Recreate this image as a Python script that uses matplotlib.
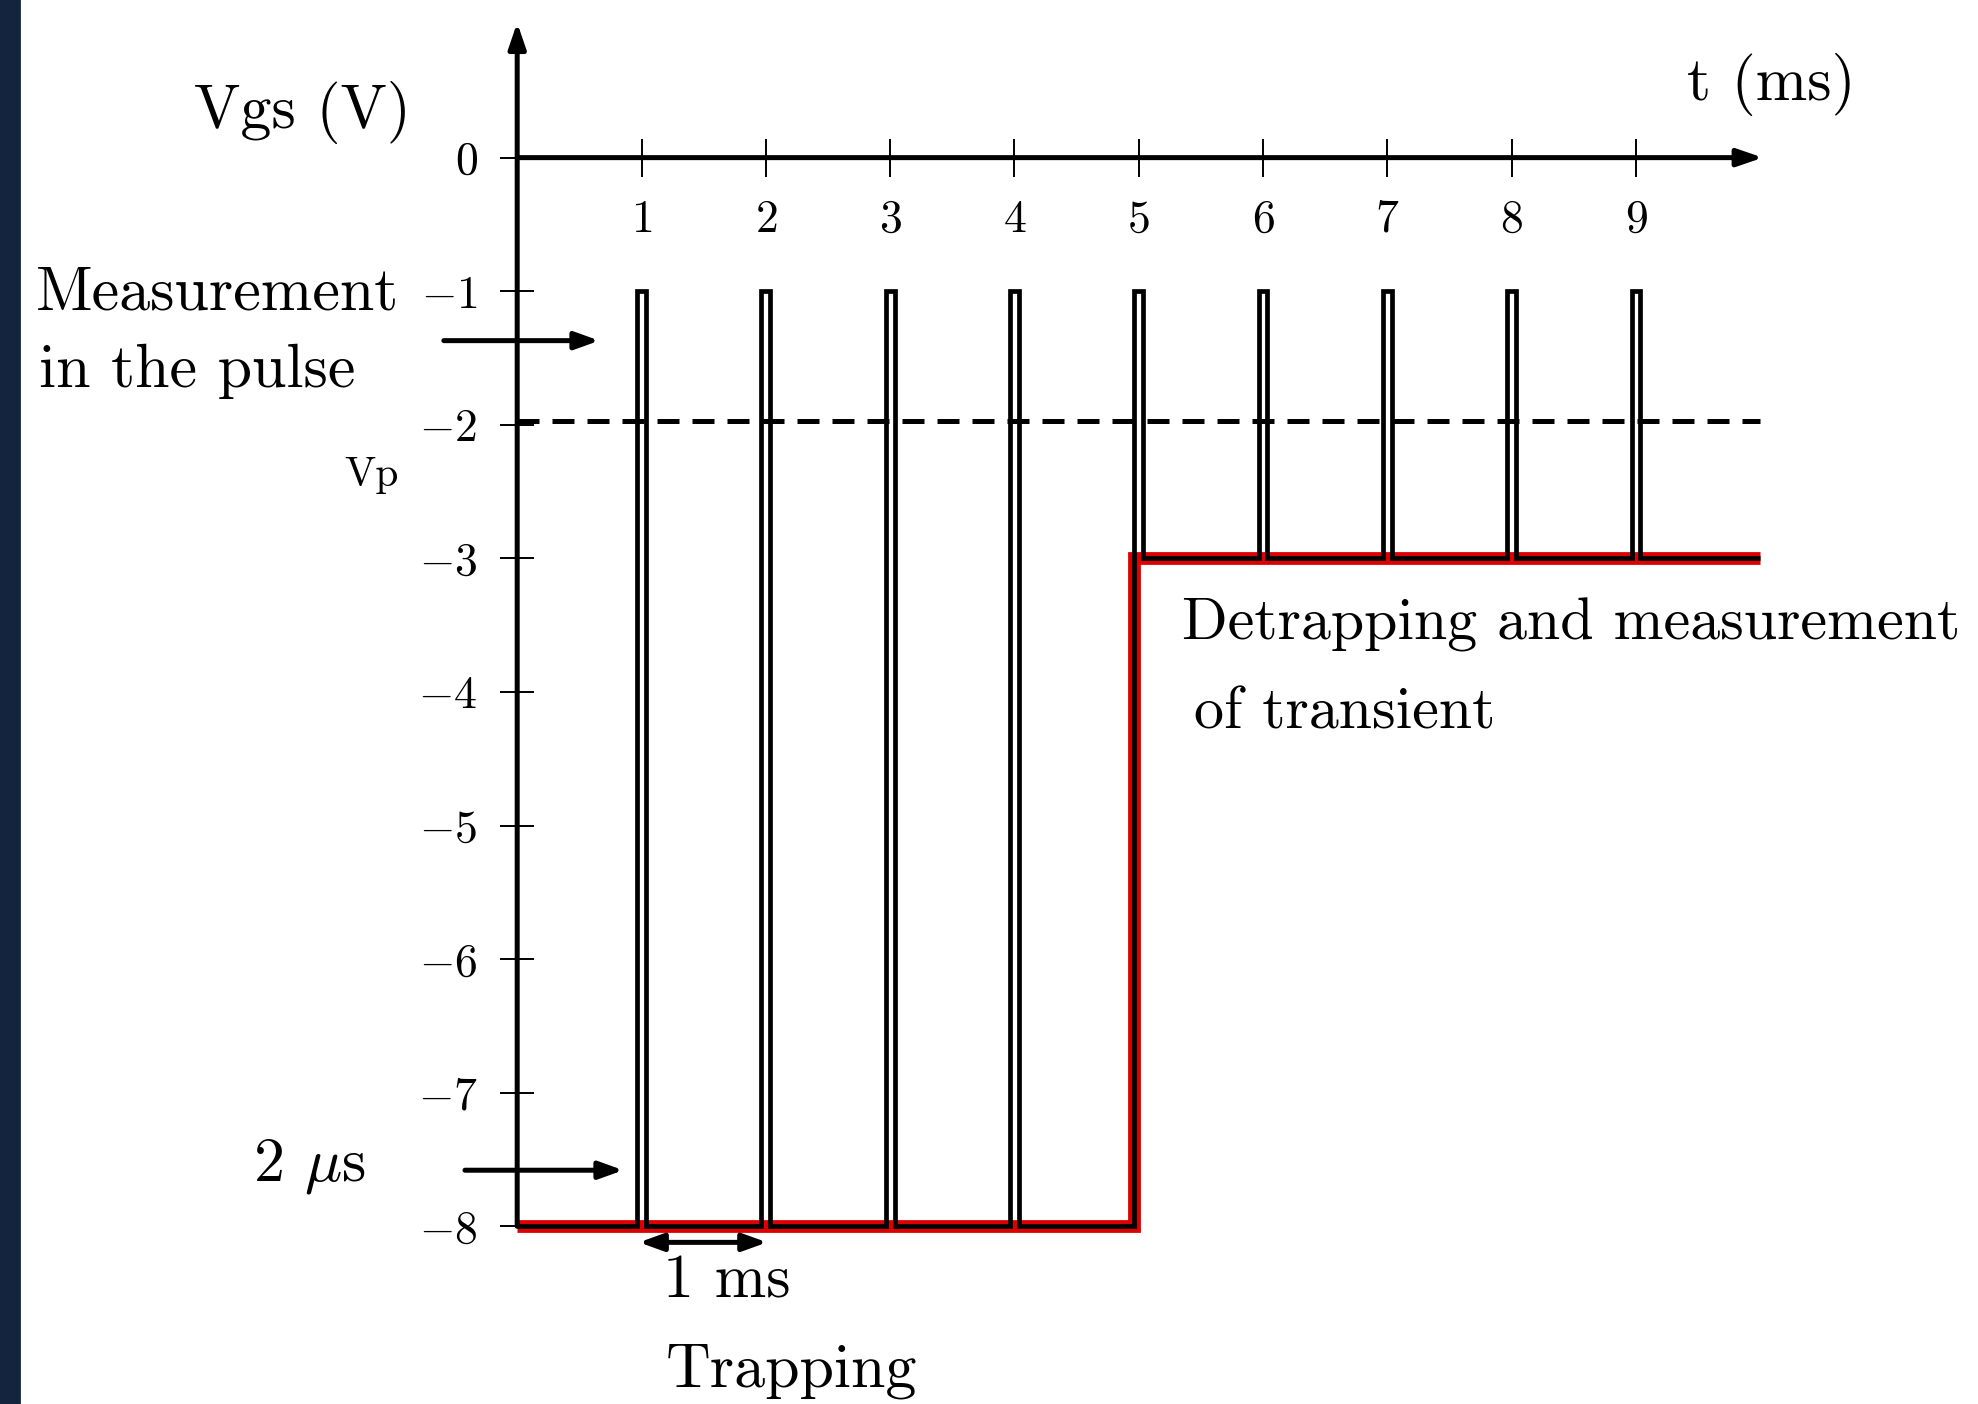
import numpy as np
import matplotlib.pyplot as plt
from matplotlib.patches import Rectangle

plt.rcParams['font.family'] = 'serif'
plt.rcParams['font.serif'] = ['cmr10']
plt.rcParams['mathtext.fontset'] = 'cm'
plt.rcParams['axes.unicode_minus'] = False

# gate pulse train, t in ms, Vgs in V
pulse_t = [1, 2, 3, 4, 5, 6, 7, 8, 9]
pulse_top = -1.0
pulse_half = 0.035
base_before = [-8, -8, -8, -8, -8, -3, -3, -3, -3]
base_after = [-8, -8, -8, -8, -3, -3, -3, -3, -3]
t_end = 10

# trapping / detrapping envelope (red)
trap_level = -8
detrap_level = -3
step_pulse = 5

vp_level = -1.97

xticks = [1, 2, 3, 4, 5, 6, 7, 8, 9]
yticks = [0, -1, -2, -3, -4, -5, -6, -7, -8]

fig = plt.figure(figsize=(9.89, 7.02), dpi=200)
ax = fig.add_axes([0, 0, 1, 1])
ax.set_xlim(-4.16, 11.75)
ax.set_ylim(-9.33, 1.18)

# black square wave
t = [0]
v = [base_before[0]]
for k, b0, b1 in zip(pulse_t, base_before, base_after):
    t += [k - pulse_half, k - pulse_half, k + pulse_half, k + pulse_half]
    v += [b0, pulse_top, pulse_top, b1]
t.append(t_end)
v.append(base_after[-1])

t_step = step_pulse - pulse_half
env_t = [0, t_step, t_step, t_end]
env_v = [trap_level, trap_level, detrap_level, detrap_level]

ax.plot(env_t, env_v, color='#dd0000', lw=4.6, solid_joinstyle='miter',
        solid_capstyle='butt', zorder=2)
ax.plot(t, v, color='black', lw=1.7, solid_joinstyle='miter',
        solid_capstyle='butt', zorder=3)
ax.plot([0, t_end], [vp_level, vp_level], color='black', lw=1.8,
        dashes=(4.4, 2.6), zorder=4)

# axes drawn as arrows
for s in ['top', 'right']:
    ax.spines[s].set_visible(False)
ax.spines['left'].set_position(('data', 0))
ax.spines['bottom'].set_position(('data', 0))
ax.spines['left'].set_color('none')
ax.spines['bottom'].set_color('none')
ax.patch.set_visible(False)

axarrow = dict(arrowstyle='-|>,head_length=0.38,head_width=0.13',
               color='black', lw=1.8, shrinkA=0, shrinkB=0, mutation_scale=20)
ax.annotate('', xy=(0, 1.01), xytext=(0, -8), arrowprops=axarrow, zorder=5)
ax.annotate('', xy=(10.02, 0), xytext=(0, 0), arrowprops=axarrow, zorder=5)

ax.set_xticks(xticks)
ax.set_xticklabels([r'$%d$' % x for x in xticks])
ax.set_yticks(yticks)
ax.set_yticklabels([r'$%d$' % y for y in yticks])
ax.tick_params(axis='x', direction='inout', length=14, width=0.7, pad=8,
               labelsize=16.5)
ax.tick_params(axis='y', direction='inout', length=12.5, width=0.7, pad=8,
               labelsize=16.5)

# labels and annotations
big = 22.3
ax.text(-1.73, 0.22, 'Vgs (V)', fontsize=big, ha='center', va='baseline')
ax.text(10.09, 0.43, 't (ms)', fontsize=big, ha='center', va='baseline')
ax.text(-1.17, -2.46, 'Vp', fontsize=15, ha='center', va='baseline')

ax.text(-3.87, -1.14, 'Measurement', fontsize=big, ha='left', va='baseline')
ax.text(-3.85, -1.72, 'in the pulse', fontsize=big, ha='left', va='baseline')
arr = dict(arrowstyle='-|>,head_length=0.36,head_width=0.13', color='black',
           lw=1.8, shrinkA=0, shrinkB=0, mutation_scale=20)
ax.annotate('', xy=(0.66, -1.37), xytext=(-0.59, -1.37), arrowprops=arr)

ax.text(-1.67, -7.66, r'2 $\mu$s', fontsize=big, ha='center', va='baseline')
ax.annotate('', xy=(0.853, -7.58), xytext=(-0.42, -7.58), arrowprops=arr)

arr2 = dict(arrowstyle='<|-|>,head_length=0.36,head_width=0.13', color='black',
            lw=1.8, shrinkA=0, shrinkB=0, mutation_scale=20)
ax.annotate('', xy=(2.01, -8.12), xytext=(0.98, -8.12), arrowprops=arr2)
ax.text(1.69, -8.53, '1 ms', fontsize=big, ha='center', va='baseline')
ax.text(2.21, -9.2, 'Trapping', fontsize=big, ha='center', va='baseline')

ax.text(5.35, -3.61, 'Detrapping and measurement', fontsize=21.6,
        ha='left', va='baseline')
ax.text(5.44, -4.27, 'of transient', fontsize=21.6, ha='left', va='baseline')

fig.add_artist(Rectangle((0, 0), 19 / 1978, 1, transform=fig.transFigure,
                         color='#14243f', zorder=10))

fig.savefig('out.png', dpi=200)
